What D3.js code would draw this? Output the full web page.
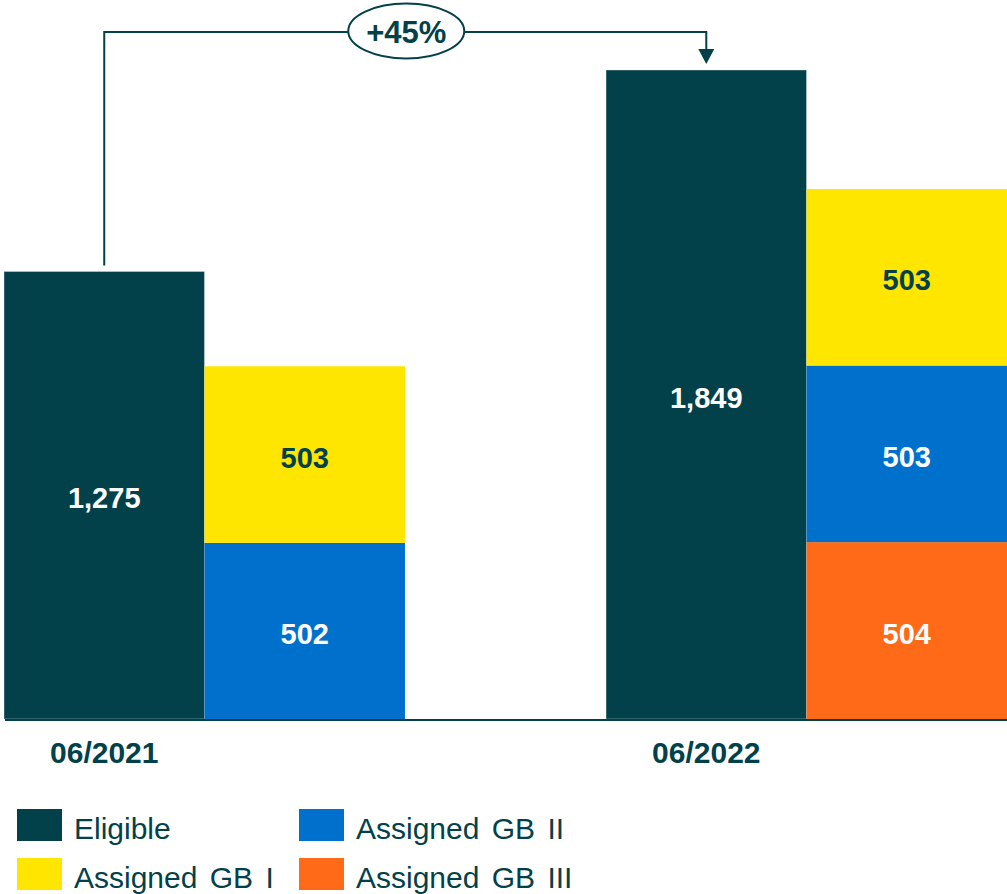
<!DOCTYPE html>
<html>
<head>
<meta charset="utf-8">
<script src="https://cdn.jsdelivr.net/npm/d3@7"></script>
<style>
  html, body { margin: 0; padding: 0; background: #ffffff; }
  svg { display: block; }
  text { font-family: "Liberation Sans", Arial, sans-serif; }
</style>
</head>
<body>
<svg id="chart" width="1007" height="894"></svg>
<script>
// ---- data ----
const categories = ["06/2021", "06/2022"];
const eligible = [1275, 1849];
const assignedGB1 = [503, 503];
const assignedGB2 = [502, 503];
const assignedGB3 = [0, 504];
const growthLabel = "+45%";
const legendLabels = ["Eligible", "Assigned GB I", "Assigned GB II", "Assigned GB III"];

// ---- styles ----
const colors = {
  eligible: "#03414A",
  gb1: "#FFE600",
  gb2: "#0070CD",
  gb3: "#FF6A18"
};
const labelColors = { eligible: "#ffffff", gb1: "#03414A", gb2: "#ffffff", gb3: "#ffffff" };
const dark = "#03414A";

const svg = d3.select("#chart");

const rows = categories.map((c, i) => ({
  cat: c,
  eligible: eligible[i],
  gb1: assignedGB1[i],
  gb2: assignedGB2[i],
  gb3: assignedGB3[i]
}));

const x = d3.scaleBand().domain(categories).range([4, 1007]).paddingInner(0.334).paddingOuter(0);
const xSub = d3.scaleBand().domain(["eligible", "assigned"]).range([0, x.bandwidth()]).padding(0);
const y = d3.scaleLinear().domain([0, 2000]).range([719, 17]);

// eligible bars
const gEl = svg.append("g");
rows.forEach(r => {
  const x0 = x(r.cat) + xSub("eligible");
  gEl.append("rect")
    .attr("x", x0).attr("y", y(r.eligible))
    .attr("width", xSub.bandwidth()).attr("height", y(0) - y(r.eligible))
    .attr("fill", colors.eligible)
    .attr("stroke", "rgba(255,255,255,0.35)").attr("stroke-width", 1);
  gEl.append("text")
    .attr("x", x0 + xSub.bandwidth() / 2)
    .attr("y", (y(r.eligible) + y(0)) / 2 + 13)
    .attr("text-anchor", "middle")
    .attr("font-size", 29).attr("font-weight", "bold")
    .attr("fill", labelColors.eligible)
    .text(d3.format(",")(r.eligible));
});

// stacked assigned bars
const keys = ["gb3", "gb2", "gb1"];
const stacked = d3.stack().keys(keys)(rows);
const gSt = svg.append("g");
stacked.forEach(layer => {
  layer.forEach(seg => {
    const v = seg[1] - seg[0];
    if (v <= 0) return;
    const cat = seg.data.cat;
    const x0 = x(cat) + xSub("assigned");
    gSt.append("rect")
      .attr("x", x0).attr("y", y(seg[1]))
      .attr("width", xSub.bandwidth()).attr("height", y(seg[0]) - y(seg[1]))
      .attr("fill", colors[layer.key]);
    gSt.append("text")
      .attr("x", x0 + xSub.bandwidth() / 2)
      .attr("y", (y(seg[0]) + y(seg[1])) / 2 + 13)
      .attr("text-anchor", "middle")
      .attr("font-size", 29).attr("font-weight", "bold")
      .attr("fill", labelColors[layer.key])
      .text(d3.format(",")(v));
  });
});

// axis line
const xAxis = d3.axisBottom(x).tickSize(0).tickPadding(0);
const axisG = svg.append("g").attr("transform", `translate(0,${y(0) + 1})`).call(xAxis);
axisG.select(".domain").attr("stroke", dark).attr("stroke-width", 2).attr("d", "M5,0H1007");
axisG.selectAll(".tick").attr("transform", d => `translate(${x(d) + xSub("eligible") + xSub.bandwidth() / 2},0)`);
axisG.selectAll(".tick text")
  .attr("y", 43).attr("dy", 0)
  .attr("font-size", 30).attr("font-weight", "bold")
  .attr("font-family", "'Liberation Sans', Arial, sans-serif")
  .attr("fill", dark);

// growth bracket
const bx1 = x(categories[0]) + xSub("eligible") + xSub.bandwidth() / 2;
const bx2 = x(categories[1]) + xSub("eligible") + xSub.bandwidth() / 2;
const topY = 32;
const startY = y(eligible[0]) - 6;
const tipY = y(eligible[1]) - 6;
svg.append("path")
  .attr("d", `M${bx1},${startY}V${topY}H${bx2}V${tipY - 14}`)
  .attr("fill", "none").attr("stroke", dark).attr("stroke-width", 2);
svg.append("path")
  .attr("d", `M${bx2 - 8},${tipY - 15}L${bx2 + 8},${tipY - 15}L${bx2},${tipY}Z`)
  .attr("fill", dark);
const cx = (bx1 + bx2) / 2 + 1;
svg.append("ellipse")
  .attr("cx", cx).attr("cy", 31).attr("rx", 58).attr("ry", 27.5)
  .attr("fill", "#ffffff").attr("stroke", dark).attr("stroke-width", 2);
svg.append("text")
  .attr("x", cx).attr("y", 43)
  .attr("text-anchor", "middle")
  .attr("font-size", 31).attr("font-weight", "bold")
  .attr("fill", dark)
  .text(growthLabel);

// legend
const legendColors = [colors.eligible, colors.gb1, colors.gb2, colors.gb3];
const legendPos = [[17, 809], [17, 858], [299, 809], [299, 858]];
const lg = svg.append("g");
legendLabels.forEach((lab, i) => {
  const [lx, ly] = legendPos[i];
  lg.append("rect").attr("x", lx).attr("y", ly).attr("width", 45).attr("height", 32).attr("fill", legendColors[i]);
  lg.append("text")
    .attr("x", lx + 57).attr("y", ly + 30)
    .attr("font-size", 30)
    .attr("word-spacing", 4)
    .attr("fill", dark)
    .text(lab);
});
</script>
</body>
</html>
